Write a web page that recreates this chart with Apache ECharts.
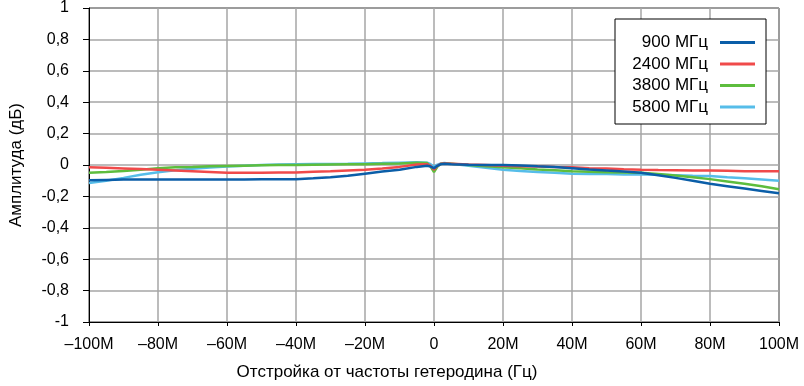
<!DOCTYPE html>
<html>
<head>
<meta charset="utf-8">
<script src="https://cdn.jsdelivr.net/npm/echarts@6/dist/echarts.min.js"></script>
<style>html,body{margin:0;padding:0;background:#fff}#c{width:804px;height:386px}</style>
</head>
<body>
<div id="c"></div>
<script>
// Offsets from LO frequency, MHz
const offsets = [-100,-95,-90,-85,-80,-75,-70,-65,-60,-55,-50,-45,-40,-35,-30,-25,-20,-15,-10,-5,-2,-1,0,1,2,3,5,10,15,20,25,30,35,40,45,50,55,60,65,70,75,80,85,90,95,100];
const seriesNames = ['900 МГц','2400 МГц','3800 МГц','5800 МГц'];
const amp900 = [-0.097,-0.095,-0.093,-0.093,-0.093,-0.092,-0.093,-0.093,-0.093,-0.092,-0.090,-0.090,-0.090,-0.085,-0.078,-0.068,-0.055,-0.042,-0.030,-0.012,-0.005,-0.010,-0.020,-0.005,0.005,0.008,0.005,0.002,0.000,0.000,-0.003,-0.008,-0.012,-0.020,-0.028,-0.035,-0.042,-0.050,-0.065,-0.082,-0.100,-0.120,-0.135,-0.150,-0.165,-0.180];
const amp2400 = [-0.015,-0.018,-0.022,-0.026,-0.030,-0.035,-0.040,-0.045,-0.050,-0.050,-0.050,-0.048,-0.047,-0.043,-0.040,-0.035,-0.030,-0.022,-0.012,0.003,0.005,-0.005,-0.030,-0.005,0.008,0.010,0.008,0.003,0.000,-0.005,-0.008,-0.010,-0.013,-0.015,-0.020,-0.023,-0.027,-0.030,-0.032,-0.033,-0.035,-0.035,-0.037,-0.040,-0.040,-0.040];
const amp3800 = [-0.050,-0.045,-0.038,-0.030,-0.020,-0.015,-0.012,-0.008,-0.006,-0.004,-0.002,0.000,0.000,0.002,0.003,0.004,0.005,0.008,0.010,0.015,0.012,-0.010,-0.045,-0.010,0.008,0.010,0.008,0.000,-0.008,-0.015,-0.020,-0.028,-0.034,-0.040,-0.043,-0.046,-0.048,-0.050,-0.058,-0.067,-0.078,-0.090,-0.105,-0.120,-0.135,-0.155];
const amp5800 = [-0.115,-0.100,-0.082,-0.062,-0.046,-0.034,-0.024,-0.016,-0.010,-0.005,0.000,0.003,0.005,0.006,0.007,0.008,0.010,0.012,0.015,0.018,0.015,0.005,-0.010,0.002,0.010,0.012,0.008,-0.005,-0.018,-0.030,-0.038,-0.045,-0.050,-0.055,-0.057,-0.058,-0.060,-0.060,-0.062,-0.065,-0.068,-0.070,-0.078,-0.085,-0.092,-0.100];
const colors = ['#0b5ea8','#f04a4a','#5dbd3d','#56bde9'];
const yTicks = {min:-1, max:1, interval:0.2};
const xTicks = {min:-100, max:100, interval:20};

const chart = echarts.init(document.getElementById('c'), null, {renderer:'canvas'});
const font = 'Liberation Sans, Arial, sans-serif';
const pair = a => offsets.map((x,i)=>[x,a[i]]);
const allData = [amp900, amp2400, amp3800, amp5800];
const drawOrder = [3,2,1,0];
const series = drawOrder.map(i => ({
  name: seriesNames[i], type:'line', data: pair(allData[i]), showSymbol:false, symbol:'none',
  lineStyle:{color:colors[i], width:2.5}, itemStyle:{color:colors[i]}, z: 3 + (3-i), animation:false
}));
chart.setOption({
  animation:false,
  grid:{left:87, right:25, top:5, bottom:64, show:true, borderColor:'#000', borderWidth:1, containLabel:false},
  legend:{
    data: seriesNames,
    orient:'vertical', left:615, top:19,
    backgroundColor:'#fff', borderColor:'#000', borderWidth:1,
    padding:[15,11,8.5,17], itemGap:4.5,
    align:'right', icon:'rect', itemWidth:35, itemHeight:3,
    formatter: n => '{a|' + n + '}',
    textStyle:{fontFamily:font, fontSize:17, color:'#000',
      rich:{a:{fontFamily:font, fontSize:17, color:'#000', width:76, align:'right', lineHeight:17, padding:[0,7,0,0]}}}
  },
  xAxis:{
    type:'value', min:xTicks.min, max:xTicks.max, interval:xTicks.interval,
    name:'Отстройка от частоты гетеродина (Гц)', nameLocation:'middle', nameGap:42,
    nameTextStyle:{fontFamily:font, fontSize:17, color:'#000', padding:[0,94,0,0]},
    axisLine:{show:true, onZero:false, lineStyle:{color:'#000', width:1}},
    axisTick:{show:true, length:4, lineStyle:{color:'#000'}},
    axisLabel:{fontFamily:font, fontSize:16, color:'#000', margin:15,
      formatter: v => v===0 ? '0' : (v<0?'–':'') + Math.abs(v) + 'M'},
    splitLine:{show:true, lineStyle:{color:'#a6a6a6', width:1.5}}
  },
  yAxis:{
    type:'value', min:yTicks.min, max:yTicks.max, interval:yTicks.interval,
    name:'Амплитуда (дБ)', nameLocation:'middle', nameGap:64, nameRotate:90,
    nameTextStyle:{fontFamily:font, fontSize:17, color:'#000'},
    axisLine:{show:true, onZero:false, lineStyle:{color:'#000', width:1}},
    axisTick:{show:true, length:6, lineStyle:{color:'#000'}},
    axisLabel:{fontFamily:font, fontSize:16, color:'#000', margin:20,
      formatter: v => { const r = Math.round(v*10)/10; return String(r).replace('.', ','); }},
    splitLine:{show:true, lineStyle:{color:'#a6a6a6', width:1.5}}
  },
  series: series
});
</script>
</body>
</html>
